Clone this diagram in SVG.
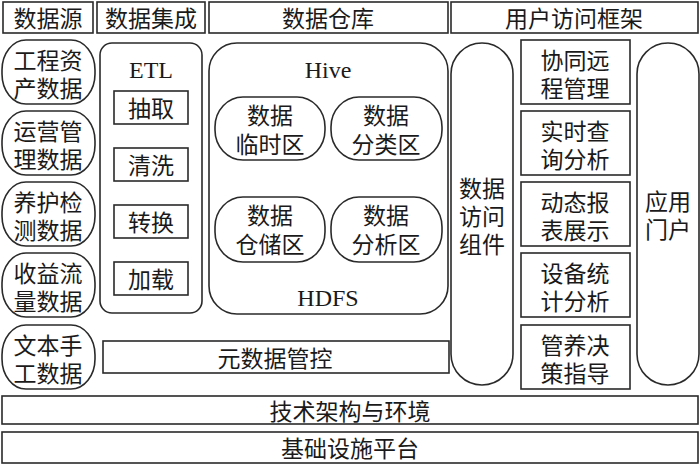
<svg xmlns="http://www.w3.org/2000/svg" width="700" height="465" viewBox="0 0 700 465">
<style>
.b{fill:#fff;stroke:#2a2a2a;stroke-width:1.6}
.t{font-family:"Noto Sans CJK SC","Liberation Serif",serif;font-size:23px;fill:#1a1a1a;text-anchor:middle;dominant-baseline:central}
.e{font-family:"Liberation Serif","Noto Sans CJK SC",serif;font-size:24px;fill:#1a1a1a;text-anchor:middle;dominant-baseline:central}
</style>
<rect width="700" height="465" fill="#fff"/>
<g id="h1"><rect class="b" x="3" y="2" width="90" height="31"/><text class="t" x="48" y="17">数据源</text></g>
<g id="h2"><rect class="b" x="97" y="2" width="108" height="31"/><text class="t" x="151" y="17">数据集成</text></g>
<g id="h3"><rect class="b" x="209" y="2" width="239" height="31"/><text class="t" x="328" y="17">数据仓库</text></g>
<g id="h4"><rect class="b" x="451" y="2" width="247" height="31"/><text class="t" x="574" y="17">用户访问框架</text></g>

<g id="s1"><rect class="b" x="2" y="40" width="93" height="64" rx="24" ry="30"/><text class="t" x="48" y="59">工程资</text><text class="t" x="48" y="87">产数据</text></g>
<g id="s2"><rect class="b" x="2" y="111" width="93" height="64" rx="24" ry="30"/><text class="t" x="48" y="130">运营管</text><text class="t" x="48" y="158">理数据</text></g>
<g id="s3"><rect class="b" x="2" y="182" width="93" height="64" rx="24" ry="30"/><text class="t" x="48" y="201">养护检</text><text class="t" x="48" y="229">测数据</text></g>
<g id="s4"><rect class="b" x="2" y="253" width="93" height="64" rx="24" ry="30"/><text class="t" x="48" y="272">收益流</text><text class="t" x="48" y="300">量数据</text></g>
<g id="s5"><rect class="b" x="2" y="325" width="93" height="64" rx="24" ry="30"/><text class="t" x="48" y="344">文本手</text><text class="t" x="48" y="372">工数据</text></g>

<g id="etl"><rect class="b" x="100" y="43" width="102" height="270" rx="12"/><text class="e" x="151" y="70">ETL</text></g>
<g id="e1"><rect class="b" x="114" y="91" width="74" height="33"/><text class="t" x="151" y="107">抽取</text></g>
<g id="e2"><rect class="b" x="114" y="148" width="74" height="33"/><text class="t" x="151" y="164">清洗</text></g>
<g id="e3"><rect class="b" x="114" y="205" width="74" height="33"/><text class="t" x="151" y="221">转换</text></g>
<g id="e4"><rect class="b" x="114" y="262" width="74" height="33"/><text class="t" x="151" y="278">加载</text></g>

<g id="hive"><rect class="b" x="209" y="43" width="239" height="271" rx="28"/><text class="e" x="328" y="70">Hive</text><text class="e" x="328" y="298">HDFS</text></g>
<g id="w1"><rect class="b" x="215" y="97" width="110" height="63" rx="28" ry="30"/><text class="t" x="270" y="114">数据</text><text class="t" x="270" y="143">临时区</text></g>
<g id="w2"><rect class="b" x="331" y="97" width="111" height="63" rx="28" ry="30"/><text class="t" x="386" y="114">数据</text><text class="t" x="386" y="143">分类区</text></g>
<g id="w3"><rect class="b" x="215" y="197" width="110" height="65" rx="28" ry="30"/><text class="t" x="270" y="214">数据</text><text class="t" x="270" y="243">仓储区</text></g>
<g id="w4"><rect class="b" x="331" y="197" width="111" height="65" rx="28" ry="30"/><text class="t" x="386" y="214">数据</text><text class="t" x="386" y="243">分析区</text></g>

<g id="meta"><rect class="b" x="103" y="341" width="346" height="32"/><text class="t" x="275" y="357">元数据管控</text></g>

<g id="dac"><rect class="b" x="451" y="43" width="62" height="342" rx="31"/><text class="t" x="482" y="187">数据</text><text class="t" x="482" y="215">访问</text><text class="t" x="482" y="243">组件</text></g>

<g id="u1"><rect class="b" x="521" y="40" width="109" height="64"/><text class="t" x="575" y="59">协同远</text><text class="t" x="575" y="87">程管理</text></g>
<g id="u2"><rect class="b" x="521" y="111" width="109" height="64"/><text class="t" x="575" y="130">实时查</text><text class="t" x="575" y="158">询分析</text></g>
<g id="u3"><rect class="b" x="521" y="182" width="109" height="64"/><text class="t" x="575" y="201">动态报</text><text class="t" x="575" y="229">表展示</text></g>
<g id="u4"><rect class="b" x="521" y="253" width="109" height="64"/><text class="t" x="575" y="272">设备统</text><text class="t" x="575" y="300">计分析</text></g>
<g id="u5"><rect class="b" x="521" y="325" width="109" height="64"/><text class="t" x="575" y="344">管养决</text><text class="t" x="575" y="372">策指导</text></g>

<g id="portal"><rect class="b" x="637" y="43" width="62" height="342" rx="31"/><text class="t" x="668" y="200">应用</text><text class="t" x="668" y="228">门户</text></g>

<g id="tech"><rect class="b" x="2" y="396" width="696" height="28"/><text class="t" x="350" y="410">技术架构与环境</text></g>
<g id="infra"><rect class="b" x="2" y="432" width="696" height="31"/><text class="t" x="350" y="447">基础设施平台</text></g>
<g id="connectors"></g>
</svg>
